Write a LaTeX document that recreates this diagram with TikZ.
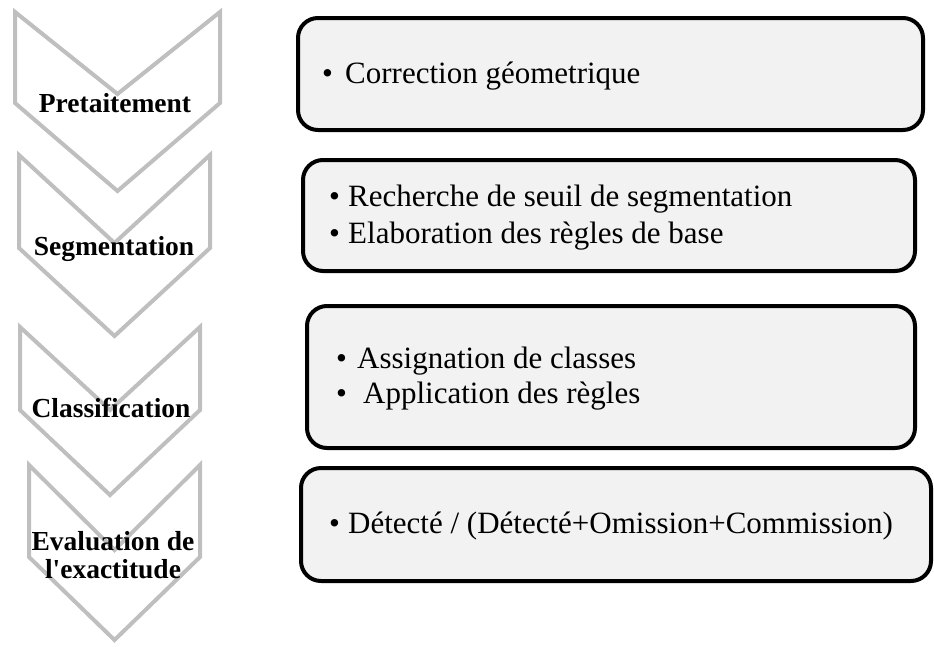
\documentclass[tikz,border=0pt]{standalone}
\usepackage{fontspec}
\setmainfont{Liberation Serif}
\definecolor{chevgrey}{HTML}{BFBFBF}
\definecolor{boxfill}{HTML}{F2F2F2}
\newcommand{\mychev}[6]{%
  \draw[chevline] ({#1-#2},{#3}) -- ({#1},{#3+#5}) -- ({#1+#2},{#3}) -- ({#1+#2},{#3+#4})
    -- ({#1},{#3+#4+#6}) -- ({#1-#2},{#3+#4}) -- cycle;}
\begin{document}
\begin{tikzpicture}[x=1pt,y=-1pt,
  chevline/.style={draw=chevgrey,line width=4pt,line join=miter},
  stepbox/.style={draw=black,fill=boxfill,line width=4pt,rounded corners=20pt,inner sep=0pt,outer sep=0pt},
  steplabel/.style={font=\fontsize{27.5}{28}\selectfont\bfseries,anchor=base,inner sep=0pt},
  bul/.style={font=\fontsize{31}{37}\selectfont,anchor=base west,inner sep=0pt},
  itemtext/.style={font=\fontsize{31}{37}\selectfont,anchor=base west,inner sep=0pt}]
\useasboundingbox (0,0) rectangle (934,646);
% chevrons
\mychev{117.5}{102.5}{12}{91}{82}{88}
\mychev{114.5}{95.5}{155}{93}{88}{88}
\mychev{110}{90}{327}{83}{83}{85}
\mychev{114.5}{85.5}{465}{92}{85}{83}
% step labels
\node[steplabel] (l1) at (115,112) {Pretaitement};
\node[steplabel] (l2) at (114,255) {Segmentation};
\node[steplabel] (l3) at (111,417) {Classification};
\node[steplabel] (l4a) at (113,550) {Evaluation de};
\node[steplabel] (l4b) at (113,578) {l\textquotesingle exactitude};
% boxes
\node[stepbox,minimum width=625pt,minimum height=112pt] (b1) at (610.5,74) {};
\node[stepbox,minimum width=612pt,minimum height=111pt] (b2) at (609,215.5) {};
\node[stepbox,minimum width=608pt,minimum height=142pt] (b3) at (611,377) {};
\node[stepbox,minimum width=630pt,minimum height=113pt] (b4) at (616,524.5) {};
% box texts
\node[bul] (p1) at (322,83) {•};
\node[itemtext] (t1) at (345,83) {Correction géometrique};
\node[bul] (p2a) at (329,206) {•};
\node[itemtext] (t2a) at (348,206) {Recherche de seuil de segmentation};
\node[bul] (p2b) at (329,243) {•};
\node[itemtext] (t2b) at (348,243) {Elaboration des règles de base};
\node[bul] (p3a) at (336,368) {•};
\node[itemtext] (t3a) at (357,368) {Assignation de classes};
\node[bul] (p3b) at (336,403) {•};
\node[itemtext] (t3b) at (363,403) {Application des règles};
\node[bul] (p4) at (329,533) {•};
\node[itemtext] (t4) at (348,533) {Détecté / (Détecté+Omission+Commission)};
\end{tikzpicture}
\end{document}
